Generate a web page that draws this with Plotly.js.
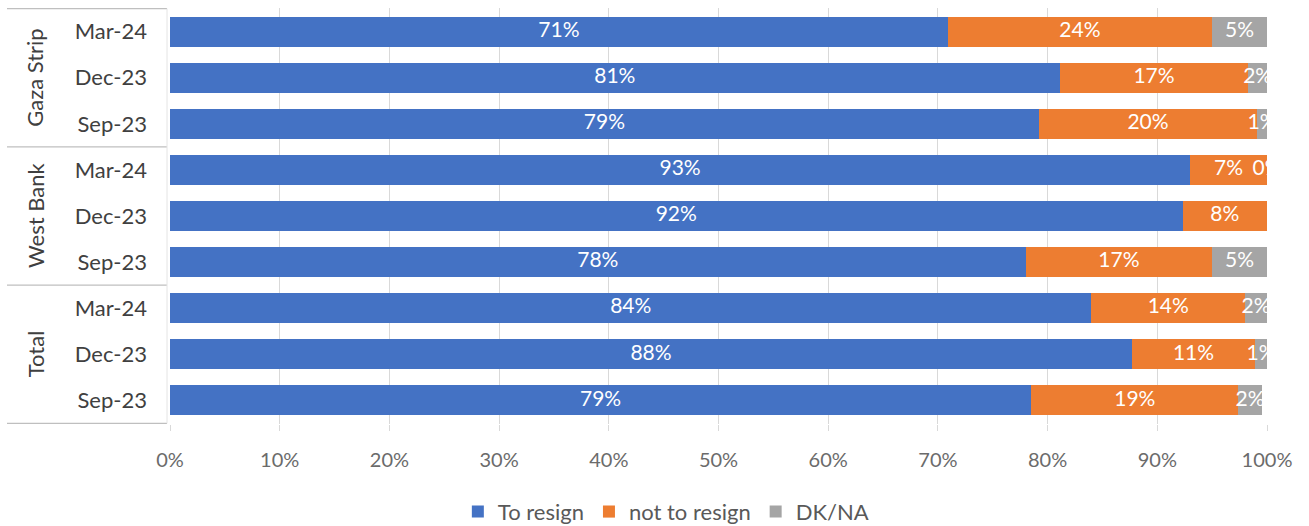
<!DOCTYPE html>
<html><head><meta charset="utf-8">
<script src="https://cdn.plot.ly/plotly-3.0.1.min.js"></script>
<style>html,body{margin:0;padding:0;background:#fff}#c{width:1309px;height:526px}</style>
</head><body><div id="c"></div>
<script>
const groups = ['Gaza Strip','West Bank','Total'];
const periods = ['Mar-24','Dec-23','Sep-23'];
const toResign    = [70.9, 81.1, 79.2, 93.0, 92.3, 78.0, 84.0, 87.7, 78.5];
const notToResign = [24.1, 17.2, 19.9, 7.0, 7.7, 17.0, 14.0, 11.2, 18.9];
const dkna        = [5.0, 1.7, 0.9, 0.0, null, 5.0, 2.0, 1.1, 2.1];
const seriesNames = ['To resign','not to resign','DK/NA'];
const colors = ['#4472C4','#ED7D31','#A5A5A5'];
const xTicks = [0,10,20,30,40,50,60,70,80,90,100];

const FONT = 'Lato, Carlito, sans-serif';
const cats = [], catText = [];
groups.forEach(g => periods.forEach(p => { cats.push(g + '|' + p); catText.push(p); }));

const series = [toResign, notToResign, dkna];
const traces = [];
const bases = cats.map(() => 0);
const labelTraces = [];
series.forEach((vals, si) => {
  traces.push({type:'bar', orientation:'h', name:seriesNames[si], y:cats, x:vals,
    marker:{color:colors[si]}, hoverinfo:'x+name'});
  const mids = [], txt = [];
  vals.forEach((v, i) => {
    if (v === null) { mids.push(null); txt.push(''); return; }
    mids.push(bases[i] + v/2); txt.push(Math.round(v) + '%');
    bases[i] += v;
  });
  labelTraces.push({type:'scatter', mode:'text', y:cats, x:mids, text:txt,
    textposition:'middle center', cliponaxis:true, showlegend:false, hoverinfo:'skip',
    textfont:{family:FONT, size:21, color:'#ffffff'}});
});

const L = 170, PW = 1097;
const shapes = [];
[-0.5, 2.5, 5.5, 8.5].forEach(yv => shapes.push({type:'line', xref:'paper', yref:'y',
  x0:(7-L)/PW, x1:(167-L)/PW, y0:yv, y1:yv, line:{color:'#bfbfbf', width:1.2}}));
shapes.push({type:'line', xref:'paper', yref:'y', x0:(167-L)/PW, x1:(167-L)/PW, y0:-0.5, y1:8.5,
  line:{color:'#e4e4e4', width:1}});
const annotations = groups.map((g, gi) => ({xref:'paper', yref:'y', x:(35-L)/PW, y:gi*3+1,
  text:g, textangle:-90, showarrow:false, xanchor:'center', yanchor:'middle',
  font:{family:FONT, size:22, color:'#404040'}}));

const layout = {
  width:1309, height:526, barmode:'stack', bargap:0.35,
  margin:{l:L, r:42, t:8, b:102, autoexpand:false},
  paper_bgcolor:'#ffffff', plot_bgcolor:'#ffffff',
  font:{family:FONT, color:'#595959'},
  xaxis:{range:[0,100], tickvals:xTicks, ticktext:xTicks.map(t => t + '%'),
    showgrid:true, gridcolor:'#d9d9d9', gridwidth:1, zeroline:false, showline:false,
    ticks:'outside', ticklen:6, tickcolor:'#d9d9d9', ticklabelstandoff:12,
    tickfont:{size:20, color:'#6b6b6b'}, automargin:false, fixedrange:true},
  yaxis:{type:'category', categoryorder:'array', categoryarray:cats, autorange:'reversed',
    tickvals:cats, ticktext:catText, ticks:'', ticklabelstandoff:22, automargin:false,
    tickfont:{size:22, color:'#404040'}, showgrid:false, showline:false, zeroline:false, fixedrange:true},
  legend:{orientation:'h', x:0.452, xanchor:'center', xref:'paper', yref:'container',
    y:0.027, yanchor:'middle', font:{size:22, color:'#595959'}, traceorder:'normal', itemwidth:30},
  shapes:shapes, annotations:annotations, showlegend:true
};
Plotly.newPlot('c', traces.concat(labelTraces), layout, {displayModeBar:false, staticPlot:true});
</script></body></html>
